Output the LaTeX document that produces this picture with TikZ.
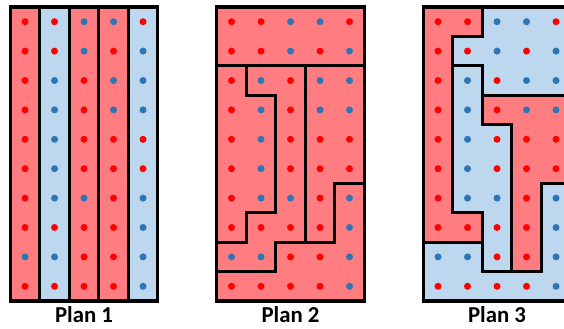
\documentclass[tikz,border=0pt]{standalone}
\usepackage{fontspec}
\setmainfont{Carlito}
\definecolor{zoneR}{HTML}{FF7C80}
\definecolor{zoneB}{HTML}{BDD7EE}
\definecolor{dotR}{HTML}{FF0000}
\definecolor{dotB}{HTML}{2E75B6}
\newcommand{\plotdots}{%
    \foreach \r [count=\j from 0] in {{R,R,B,B,R},{R,R,B,R,B},{R,B,R,B,B},{R,B,R,B,B},{R,B,R,R,R},
                                      {R,B,R,R,R},{R,B,B,R,B},{R,R,R,R,B},{B,B,R,R,B},{R,R,R,R,B}}{
        \foreach \c [count=\i from 0] in \r {
            \fill[dot\c] (\i+0.5,-\j-0.5) circle[radius=3.5bp];
        }
    }}
\tikzset{
    zone/.style={draw=black,line width=3.2bp,line join=miter},
    redzone/.style={zone,fill=zoneR},
    bluezone/.style={zone,fill=zoneB},
    plantitle/.style={anchor=base,inner sep=0pt,font=\bfseries\fontsize{22.8bp}{27bp}\selectfont},
}

\begin{document}
\begin{tikzpicture}[x=29.5bp,y=29.4bp]
            \useasboundingbox (-0.349,0.238) rectangle (18.77,-10.952);
            \begin{scope}
                \foreach \c [count=\i from 0] in {R,B,R,R,B}
                    \draw[zone,fill=zone\c] (\i,0) rectangle (\i+1,-10);
                \plotdots
                \draw[zone] (0,0) rectangle (5,-10);
                \node[plantitle] (title1) at (2.5,-10.748) {Plan 1};
            \end{scope}
            \begin{scope}[shift={(7,0)}]
                \draw[redzone] (0,0) rectangle (5,-2);
                \draw[redzone] (0,-2) -- (1,-2) -- (1,-3) -- (2,-3) -- (2,-7) -- (1,-7) -- (1,-8) -- (0,-8) -- cycle;
                \draw[redzone] (1,-2) -- (3,-2) -- (3,-8) -- (2,-8) -- (2,-9) -- (0,-9) -- (0,-8) -- (1,-8) -- (1,-7) -- (2,-7) -- (2,-3) -- (1,-3) -- cycle;
                \draw[redzone] (3,-2) -- (5,-2) -- (5,-6) -- (4,-6) -- (4,-8) -- (3,-8) -- cycle;
                \draw[redzone] (4,-6) -- (5,-6) -- (5,-10) -- (0,-10) -- (0,-9) -- (2,-9) -- (2,-8) -- (4,-8) -- cycle;
                \plotdots
                \draw[zone] (0,0) rectangle (5,-10);
                \node[plantitle] (title2) at (2.5,-10.748) {Plan 2};
            \end{scope}
            \begin{scope}[shift={(14,0)}]
                \draw[redzone] (0,0) -- (2,0) -- (2,-1) -- (1,-1) -- (1,-7) -- (2,-7) -- (2,-8) -- (0,-8) -- cycle;
                \draw[bluezone] (2,0) -- (5,0) -- (5,-3) -- (2,-3) -- (2,-2) -- (1,-2) -- (1,-1) -- (2,-1) -- cycle;
                \draw[bluezone] (1,-2) -- (2,-2) -- (2,-4) -- (3,-4) -- (3,-9) -- (2,-9) -- (2,-7) -- (1,-7) -- cycle;
                \draw[redzone] (2,-3) -- (5,-3) -- (5,-6) -- (4,-6) -- (4,-9) -- (3,-9) -- (3,-4) -- (2,-4) -- cycle;
                \draw[bluezone] (0,-8) -- (2,-8) -- (2,-9) -- (4,-9) -- (4,-6) -- (5,-6) -- (5,-10) -- (0,-10) -- cycle;
                \plotdots
                \draw[zone] (0,0) rectangle (5,-10);
                \node[plantitle] (title3) at (2.5,-10.748) {Plan 3};
            \end{scope}
        \end{tikzpicture}
\end{document}
